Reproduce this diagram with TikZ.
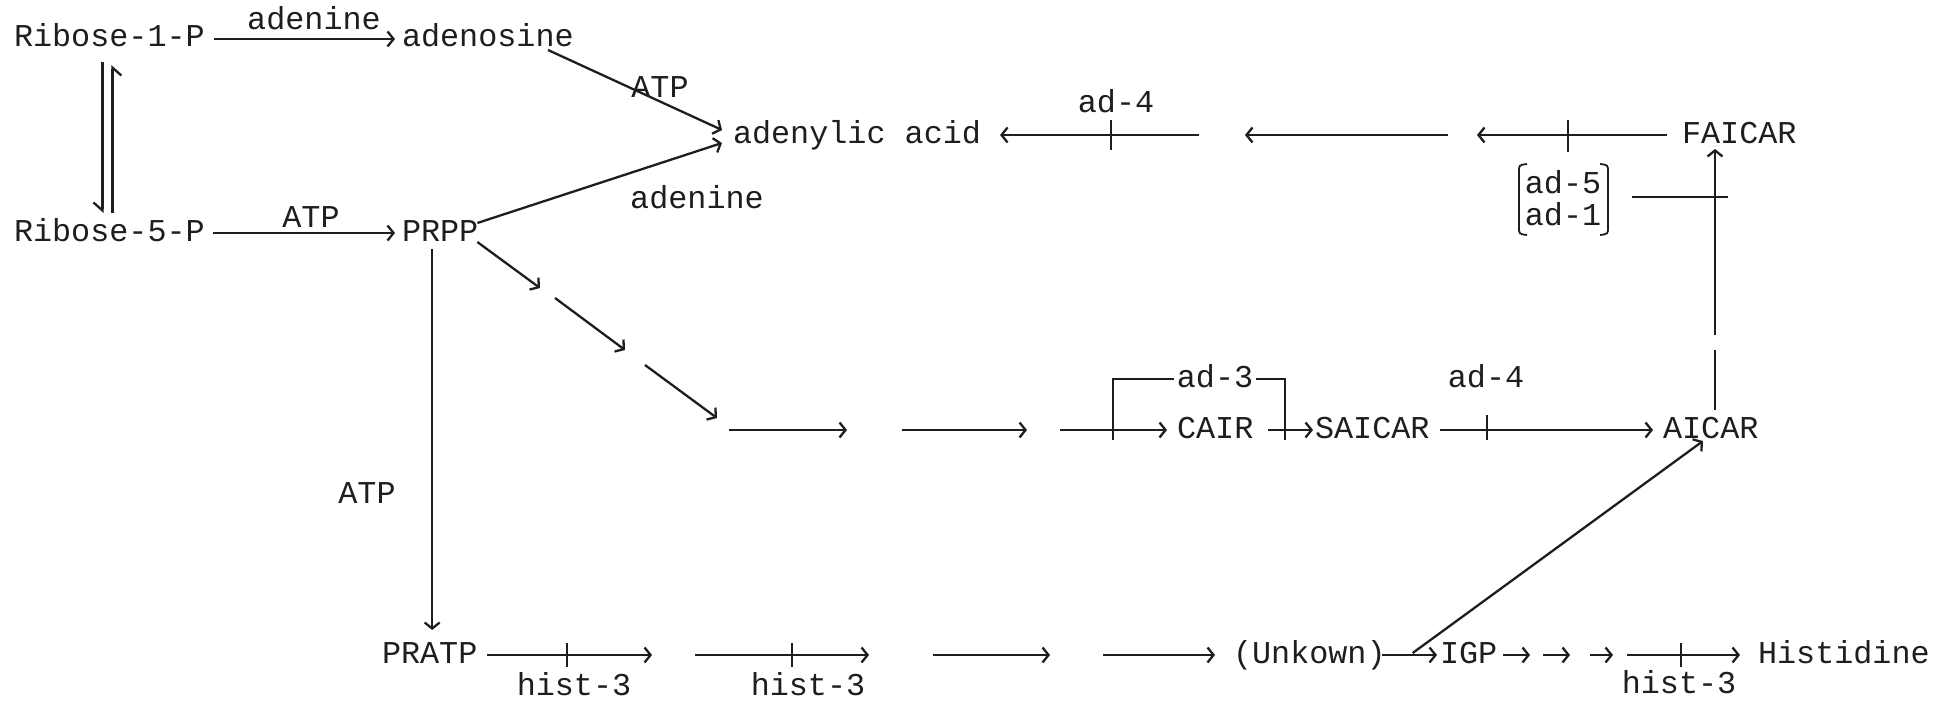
\documentclass[tikz,border=0pt]{standalone}
\usepackage{fontspec}
\setmainfont{Liberation Mono}
\usetikzlibrary{arrows.meta}
\definecolor{ink}{HTML}{1E1E1E}
\begin{document}
\begin{tikzpicture}[x=1pt,y=-1pt,
  every node/.style={inner sep=0pt, outer sep=0pt, text height=22pt, text depth=6pt,
    font=\fontsize{31.8}{36}\selectfont, text=ink},
  chem/.style={anchor=west},
  lab/.style={anchor=base},
  link/.style={line width=2.3pt, draw=ink},
  arr/.style={link, -{Straight Barb[length=6pt,width=15pt]}},
  harp/.style={link, -{Straight Barb[harpoon,swap,length=8pt,width=18pt]}}]
\useasboundingbox (0,0) rectangle (1955,701);

% compounds
\node[chem] (r1) at (14,39) {Ribose-1-P};
\node[chem] (ado) at (402,39) {adenosine};
\node[chem] (r5) at (14,233) {Ribose-5-P};
\node[chem] (prpp) at (402,233) {PRPP};
\node[chem] (amp) at (733,135) {adenylic acid};
\node[chem] (faicar) at (1682,135) {FAICAR};
\node[chem] (cair) at (1177,430) {CAIR};
\node[chem] (saicar) at (1315,430) {SAICAR};
\node[chem] (aicar) at (1663,430) {AICAR};
\node[chem] (pratp) at (382,655) {PRATP};
\node[chem] (unk) at (1233,655) {(Unkown)};
\node[chem] (igp) at (1440,655) {IGP};
\node[chem] (his) at (1758,655) {Histidine};

% cofactors and genes
\node[lab] (lAdenineA) at (314,30) {adenine};
\node[lab] (lAtpA) at (660,97) {ATP};
\node[lab] (lAtpB) at (311,227) {ATP};
\node[lab] (lAdenineB) at (697,208) {adenine};
\node[lab] (lAdFourA) at (1116,113) {ad-4};
\node[lab] (lAdFive) at (1563,193) {ad-5};
\node[lab] (lAdOne) at (1563,225) {ad-1};
\node[lab] (lAtpC) at (367,503) {ATP};
\node[lab] (lAdThree) at (1215,387) {ad-3};
\node[lab] (lAdFourB) at (1486,387) {ad-4};
\node[lab] (lHisA) at (574,695) {hist-3};
\node[lab] (lHisB) at (808,695) {hist-3};
\node[lab] (lHisC) at (1679,693) {hist-3};

% ribose phosphates
\draw[arr, shorten <=9pt, shorten >=7pt] (r1.east) -- (ado.west);
\draw[arr, shorten <=8pt, shorten >=7pt] (r5.east) -- (prpp.west);
\draw[harp] ([xshift=-7pt,yshift=-9pt]r1.south) -- ([xshift=-7pt,yshift=6pt]r5.north);
\draw[harp] ([xshift=3pt,yshift=6pt]r5.north) -- ([xshift=3pt,yshift=-12pt]r1.south);

% routes to adenylic acid
\draw[arr] ([xshift=146pt,yshift=3pt]ado.south west) -- ([xshift=-11pt,yshift=5pt]amp.west);
\draw[arr] ([xshift=-1pt,yshift=-4pt]prpp.north east) -- ([xshift=-11pt,yshift=-8pt]amp.west);

% PRPP -> PRATP
\draw[arr, shorten <=2pt, shorten >=11pt] ([xshift=-8pt]prpp.south) -- ([xshift=-8pt]prpp.south |- pratp.north);

% purine branch from PRPP
\coordinate (b1) at (540,288);
\coordinate (b2) at (555,298);
\coordinate (b3) at (625,350);
\coordinate (b4) at (645,365);
\coordinate (b5) at (717,418);
\draw[arr] ([xshift=-1pt,yshift=5pt]prpp.south east) -- (b1);
\draw[arr] (b2) -- (b3);
\draw[arr] (b4) -- (b5);

\coordinate (m1) at (729,430);
\coordinate (m2) at (847,430);
\coordinate (m3) at (902,430);
\coordinate (m4) at (1027,430);
\coordinate (m5) at (1060,430);
\draw[arr] (m1) -- (m2);
\draw[arr] (m3) -- (m4);
\draw[arr, shorten >=10pt] (m5) -- (cair.west);
\draw[arr, shorten <=15pt, shorten >=2pt] (cair.east) -- (saicar.west);
\draw[arr, shorten <=10pt, shorten >=10pt] (saicar.east) -- (aicar.west);

% ad-3 bracket over CAIR
\coordinate (k1) at (1113,440);
\coordinate (k3) at (1285,440);
\draw[link] (k1) |- ([xshift=-3pt]lAdThree.west);
\draw[link] ([xshift=3pt]lAdThree.east) -| (k3);
% ad-4 block
\draw[link] (1487,415) -- (1487,440);

% AICAR -> FAICAR
\coordinate (g1) at (1715,350);
\coordinate (g2) at (1715,335);
\draw[link, shorten <=6pt] (aicar.north -| g1) -- (g1);
\draw[arr] (g2) -- (g2 |- faicar.south);
\coordinate (c1) at (1632,197);
\coordinate (c2) at (1728,197);
\draw[link] (c1) -- (c2);
% brackets round ad-5 / ad-1
\draw[link, line width=1.8pt] (1527,164) .. controls (1519,165) .. (1519,172) -- (1519,227) .. controls (1519,234) .. (1527,235);
\draw[link, line width=1.8pt] (1600,164) .. controls (1608,165) .. (1608,172) -- (1608,227) .. controls (1608,234) .. (1600,235);

% FAICAR -> adenylic acid
\coordinate (t1e) at (1477,135);
\coordinate (t2s) at (1448,135);
\coordinate (t2e) at (1245,135);
\coordinate (t3s) at (1199,135);
\draw[arr, shorten <=15pt] (faicar.west) -- (t1e);
\draw[arr] (t2s) -- (t2e);
\draw[arr, shorten >=19pt] (t3s) -- (amp.east);
\draw[link] (1568,120) -- (1568,152);
\draw[link] (1111,120) -- (1111,150);

% histidine branch
\coordinate (h1e) at (652,655);
\coordinate (h2s) at (695,655);
\coordinate (h2e) at (869,655);
\coordinate (h3s) at (933,655);
\coordinate (h3e) at (1050,655);
\coordinate (h4s) at (1103,655);
\draw[arr, shorten <=10pt] (pratp.east) -- (h1e);
\draw[arr] (h2s) -- (h2e);
\draw[arr] (h3s) -- (h3e);
\draw[arr, shorten >=18pt] (h4s) -- (unk.west);
\draw[link] (567,643) -- (567,667);
\draw[link] (792,643) -- (792,667);

\draw[arr, shorten <=-4pt, shorten >=3pt] (unk.east) -- (igp.west);
\draw[arr] ([xshift=27pt,yshift=2pt]unk.east) -- ([xshift=40pt,yshift=3pt]aicar.south west);

\coordinate (s1e) at (1530,655);
\coordinate (s2s) at (1543,655);
\coordinate (s2e) at (1570,655);
\coordinate (s3s) at (1590,655);
\coordinate (s3e) at (1613,655);
\coordinate (h5s) at (1627,655);
\draw[arr, shorten <=6pt] (igp.east) -- (s1e);
\draw[arr] (s2s) -- (s2e);
\draw[arr] (s3s) -- (s3e);
\draw[arr, shorten >=18pt] (h5s) -- (his.west);
\draw[link] (1681,643) -- (1681,667);
\end{tikzpicture}
\end{document}
